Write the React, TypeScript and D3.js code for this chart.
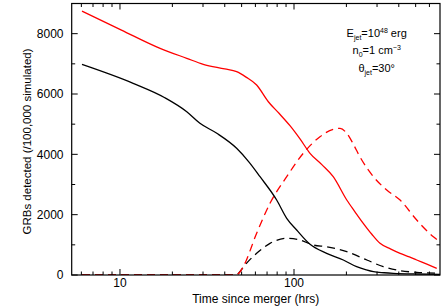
import React from "react";
import * as d3 from "d3";

const redSolidT = [6.05, 10.2, 17, 24.2, 30.1, 40, 46.8, 53, 61, 71.2, 82, 94.8, 108, 123.6, 145, 168, 201, 225, 250, 280, 312, 360, 407, 460, 507, 580, 661];
const redSolidV = [8750, 8120, 7515, 7183, 6984, 6830, 6740, 6560, 6298, 5744, 5360, 4950, 4520, 4034, 3650, 3258, 2486, 2080, 1713, 1350, 1050, 860, 719, 600, 497, 360, 222];

const blackSolidT = [6.05, 11.9, 18.1, 24.2, 28.8, 36, 46.8, 55, 63.8, 79.5, 90.8, 103.6, 123.6, 154, 192, 229, 260, 286, 330, 372, 507, 690];
const blackSolidV = [6980, 6354, 5877, 5413, 5028, 4697, 4199, 3750, 3258, 2486, 1879, 1492, 1020, 719, 497, 275, 170, 109, 75, 56, 33, 23];

const redDashT = [6.05, 46.5, 48.9, 51.1, 61, 72.8, 90.8, 113, 141, 168, 184, 201, 220, 239, 286, 341, 407, 507, 632, 690];
const redDashV = [0, 0, 100, 275, 1382, 2377, 3258, 4034, 4584, 4829, 4860, 4697, 4320, 3921, 3258, 2817, 2486, 1823, 1269, 1104];

const blackDashT = [6.05, 46.5, 49, 52.3, 61, 72.8, 90.8, 108, 129, 154, 201, 262, 326, 407, 507, 690];
const blackDashV = [0, 0, 120, 331, 719, 1050, 1216, 1160, 994, 938, 773, 497, 275, 143, 90, 56];

const xMajorTicks = [10, 100];
const xMinorTicks = [6, 7, 8, 9, 20, 30, 40, 50, 60, 70, 80, 90, 200, 300, 400, 500, 600];
const yMajorTicks = [0, 2000, 4000, 6000, 8000];
const yMinorTicks = [1000, 3000, 5000, 7000, 9000];

export default function App() {
  const W = 442, H = 306;
  const left = 71.7, right = 440, top = 3.5, bottom = 275;
  const x = d3.scaleLog().domain([5.28, 690]).range([left, right]);
  const y = d3.scaleLinear().domain([0, 9000]).range([bottom, top]);
  const mk = (ts: number[], vs: number[]) => ts.map((t, i) => [t, vs[i]] as [number, number]);
  const line = d3.line<[number, number]>().x(d => x(d[0])).y(d => y(d[1])).curve(d3.curveMonotoneX);
  const font = "'Liberation Sans', Arial, sans-serif";
  const series = [
    { d: mk(blackDashT, blackDashV), c: "#000", dash: "8,5" },
    { d: mk(redDashT, redDashV), c: "#f00", dash: "8,5" },
    { d: mk(blackSolidT, blackSolidV), c: "#000", dash: undefined },
    { d: mk(redSolidT, redSolidV), c: "#f00", dash: undefined },
  ];
  return (
    <svg width={W} height={H} style={{ position: "absolute", left: 0, top: 0, background: "#fff" }} fontFamily={font}>
      <defs>
        <clipPath id="plot"><rect x={left} y={top} width={right - left} height={bottom - top} /></clipPath>
      </defs>
      <g clipPath="url(#plot)">
        {series.map((s, i) => (
          <path key={i} d={line(s.d) || ""} fill="none" stroke={s.c} strokeWidth={1.3} strokeDasharray={s.dash} />
        ))}
      </g>
      <rect x={left} y={top} width={right - left} height={bottom - top} fill="none" stroke="#000" strokeWidth={1.2} />
      {xMajorTicks.map(t => (
        <g key={"xM" + t}>
          <line x1={x(t)} x2={x(t)} y1={bottom} y2={bottom - 6} stroke="#000" />
          <line x1={x(t)} x2={x(t)} y1={top} y2={top + 6} stroke="#000" />
          <text x={x(t)} y={287} fontSize={12} textAnchor="middle">{t}</text>
        </g>
      ))}
      {xMinorTicks.map(t => (
        <g key={"xm" + t}>
          <line x1={x(t)} x2={x(t)} y1={bottom} y2={bottom - 3.5} stroke="#000" />
          <line x1={x(t)} x2={x(t)} y1={top} y2={top + 3.5} stroke="#000" />
        </g>
      ))}
      {yMajorTicks.map(t => (
        <g key={"yM" + t}>
          <line x1={left} x2={left + 6} y1={y(t)} y2={y(t)} stroke="#000" />
          <line x1={right} x2={right - 6} y1={y(t)} y2={y(t)} stroke="#000" />
          <text x={63.5} y={y(t) + 4.3} fontSize={12} textAnchor="end">{t}</text>
        </g>
      ))}
      {yMinorTicks.map(t => (
        <g key={"ym" + t}>
          <line x1={left} x2={left + 3.5} y1={y(t)} y2={y(t)} stroke="#000" />
          <line x1={right} x2={right - 3.5} y1={y(t)} y2={y(t)} stroke="#000" />
        </g>
      ))}
      <text x={255.7} y={302.5} fontSize={12} textAnchor="middle">Time since merger (hrs)</text>
      <text transform="translate(31,141.5) rotate(-90)" fontSize={11.5} textAnchor="middle">GRBs detected (/100,000 simulated)</text>
      <g fontSize={11} textAnchor="middle">
        <text x={376.7} y={36.5}>E<tspan fontSize={7} dy={3}>jet</tspan><tspan dy={-3}>=10</tspan><tspan fontSize={7} dy={-4}>48</tspan><tspan dy={4}> erg</tspan></text>
        <text x={376.7} y={54}>n<tspan fontSize={7} dy={3}>0</tspan><tspan dy={-3}>=1 cm</tspan><tspan fontSize={7} dy={-4}>−3</tspan></text>
        <text x={376.7} y={72}>θ<tspan fontSize={7} dy={3}>jet</tspan><tspan dy={-3}>=30°</tspan></text>
      </g>
    </svg>
  );
}
